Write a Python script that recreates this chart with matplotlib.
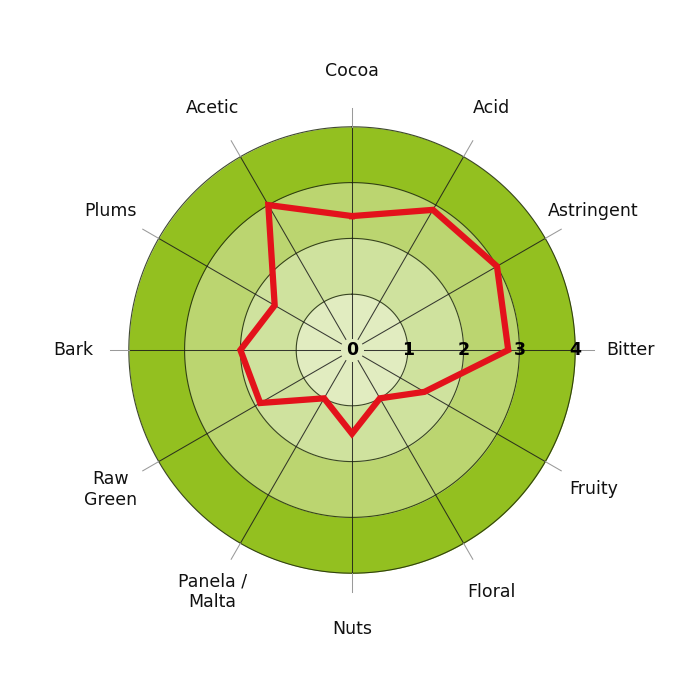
import numpy as np
import matplotlib
matplotlib.use("Agg")
import matplotlib.pyplot as plt

categories = ["Cocoa", "Acid", "Astringent", "Bitter", "Fruity", "Floral",
              "Nuts", "Panela /\nMalta", "Raw\nGreen", "Bark", "Plums", "Acetic"]
values = [2.4, 2.9, 3.0, 2.8, 1.5, 1.0, 1.5, 1.0, 1.9, 2.0, 1.6, 3.0]
ring_levels = [1, 2, 3, 4]
tick_labels = ["0", "1", "2", "3", "4"]
ring_colors = ["#e1ecc0", "#cfe29e", "#bbd570", "#93c020"]

fig = plt.figure(figsize=(7, 7), dpi=100)
unit = 55.8
rmax = 6.0
half = rmax * unit
cx, cy = 352, 350
ax = fig.add_axes([(cx - half) / 700, (700 - cy - half) / 700, 2 * half / 700, 2 * half / 700],
                  projection="polar")
ax.set_theta_zero_location("N")
ax.set_theta_direction(-1)
ax.set_ylim(0, rmax)
ax.axis("off")

t = np.linspace(0, 2 * np.pi, 400)
prev = 0
for lvl, col in zip(ring_levels, ring_colors):
    ax.fill_between(t, prev, lvl, color=col, lw=0, zorder=1)
    prev = lvl
for lvl in ring_levels:
    ax.plot(t, np.full_like(t, lvl), color="#1f2a0c", lw=0.8, alpha=0.85, zorder=2)

n = len(categories)
angles = np.arange(n) * 2 * np.pi / n
for a in angles:
    ax.plot([a, a], [0.22, 4.0], color="#1a1a1a", lw=0.75, alpha=0.85, zorder=2)
    ax.plot([a, a], [4.0, 4.33], color="#9a9a9a", lw=0.75, zorder=2)

vals = values + values[:1]
angs = list(angles) + [angles[0]]
ax.plot(angs, vals, color="#e3121b", lw=4.5, zorder=4, solid_joinstyle="miter")

for i, lab in enumerate(tick_labels):
    ax.text(np.pi / 2, i, lab, ha="center", va="center", fontsize=12.5,
            fontweight="bold", color="black", zorder=5)

for a, lab in zip(angles, categories):
    ax.text(a, 5.0, lab, ha="center", va="center", fontsize=12.5,
            color="#111111", linespacing=1.15, zorder=5)

fig.savefig("out.png", dpi=100)
